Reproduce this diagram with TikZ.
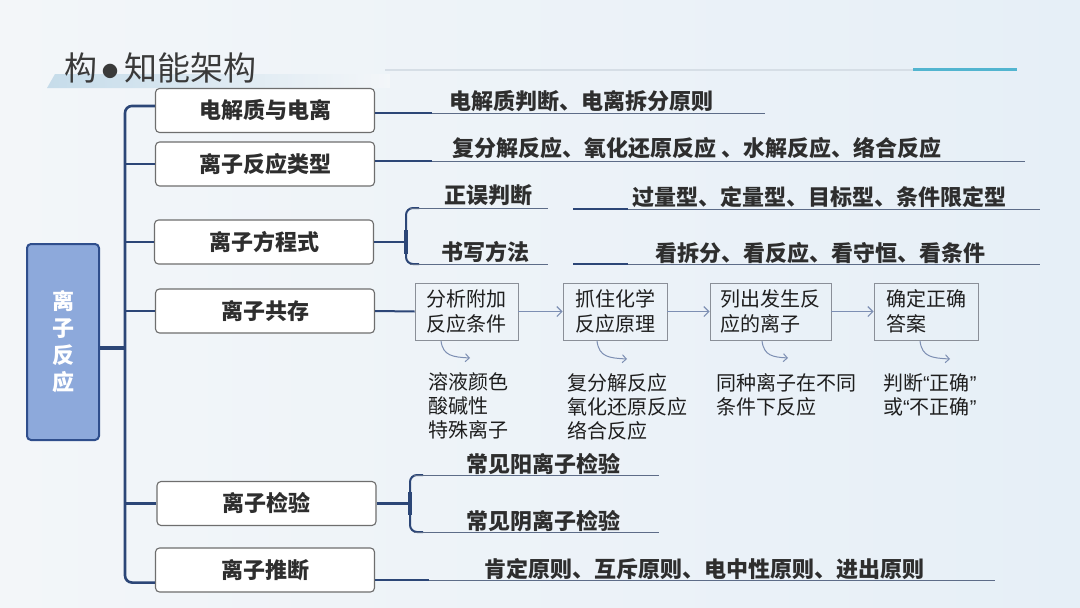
\documentclass[tikz,border=0pt]{standalone}
\usepackage{fontspec}
\setmainfont{Noto Sans CJK SC}
\newfontfamily\quotefont{Liberation Sans}
\usetikzlibrary{arrows.meta,calc}
\definecolor{bgL}{HTML}{F3F6F9}
\definecolor{bgR}{HTML}{E6EFF7}
\definecolor{dkblue}{HTML}{2C4677}
\definecolor{rootfill}{HTML}{8DA9DB}
\definecolor{rootdraw}{HTML}{2F4E8C}
\definecolor{boxdraw}{HTML}{6E6E6E}
\definecolor{stepdraw}{HTML}{8A8F98}
\definecolor{thinln}{HTML}{5D6C88}
\definecolor{arrowc}{HTML}{7D8FB3}
\definecolor{txt}{HTML}{2E2E2E}
\definecolor{txtn}{HTML}{1E1E1E}
\definecolor{tealc}{HTML}{52B5D0}
\definecolor{hdrline}{HTML}{D6DEE6}
\definecolor{stripc}{HTML}{C6DCEA}
\definecolor{titlec}{HTML}{3A3A3A}
\newcommand{\myoq}{{\quotefont “}}
\newcommand{\mycq}{{\quotefont ”}}
\begin{document}
\begin{tikzpicture}[x=1pt,y=-1pt,
  lvbox/.style={draw=boxdraw, line width=1.1pt, fill=white, rounded corners=4pt,
    minimum width=219pt, minimum height=44pt, inner sep=0pt,
    font=\fontsize{22}{26}\selectfont\bfseries, text=txt},
  lbl/.style={anchor=west, inner sep=0pt, font=\fontsize{22}{26}\selectfont\bfseries, text=txt},
  stepbox/.style={draw=stepdraw, line width=0.9pt, minimum height=57pt, inner sep=0pt,
    align=left, font=\fontsize{20}{25}\selectfont, text=txtn},
  subtxt/.style={anchor=west, inner sep=0pt, align=left, font=\fontsize{20}{24}\selectfont, text=txtn},
  trunk/.style={draw=dkblue, line width=2.6pt},
  tick/.style={draw=dkblue, line width=2.2pt},
  thickln/.style={draw=dkblue, line width=2.6pt},
  thinl/.style={draw=thinln, line width=1pt},
  bracel/.style={draw=dkblue, line width=2pt, rounded corners=7pt},
  flow/.style={draw=arrowc, line width=1.1pt, -{Straight Barb[length=5pt,width=10pt]}},
  curv/.style={draw=arrowc, line width=1pt, -{Straight Barb[length=4pt,width=8pt]}}
]
\useasboundingbox (0,0) rectangle (1080,608);
\shade[left color=bgL, right color=bgR] (0,0) rectangle (1080,608);

% header
\shade[left color=stripc, right color=bgL] (47,88) -- (55,74) -- (390,74) -- (390,88) -- cycle;
\node[anchor=west, inner sep=0pt, font=\fontsize{33}{36}\selectfont, text=titlec] (title) at (64,68)
  {构\hspace{5pt}\raisebox{3pt}{\fontsize{16}{16}\selectfont ●}\hspace{6pt}知能架构};
\draw[hdrline, line width=1.5pt] (385,70) -- (915,70);
\draw[tealc, line width=3pt] (913,69) -- (1017,69);

% root
\node[draw=rootdraw, line width=2pt, fill=rootfill, rounded corners=4pt,
  minimum width=72pt, minimum height=196pt, inner sep=0pt, align=center,
  text=white, font=\fontsize{22}{27}\selectfont\bfseries] (root) at (63,342) {离\\子\\反\\应};

% level-1 boxes
\node[lvbox] (b1) at (265,110.5) {电解质与电离};
\node[lvbox] (b2) at (265,164) {离子反应类型};
\node[lvbox] (b3) at (264,242) {离子方程式};
\node[lvbox] (b4) at (265,311) {离子共存};
\node[lvbox] (b5) at (266.5,503.5) {离子检验};
\node[lvbox] (b6) at (265,570) {离子推断};

% trunk
\coordinate (tx) at (125,0);
\draw[trunk, rounded corners=7pt] ($(b1.north west)+(0,18)$) -| ($(root.east -| tx)$) |- ($(b6.south west)+(0,-10)$);
\draw[dkblue, line width=4.5pt] ($(root.east)+(0,6)$) -- ($(root.east -| tx)+(0,6)$);
\draw[tick] (b2.west) -- (b2.west -| tx);
\draw[tick] (b3.west) -- (b3.west -| tx);
\draw[tick] (b4.west) -- (b4.west -| tx);
\draw[tick] (b5.west) -- (b5.west -| tx);

% branch 1
\coordinate (c1) at (432,113); \coordinate (e1) at (765,113);
\draw[thickln] (b1.east |- c1) -- (c1);
\draw[thinl] (c1) -- (e1);
\node[lbl] (t1) at (449,101) {电解质判断、电离拆分原则};

% branch 2
\coordinate (c2) at (432,161); \coordinate (e2) at (1025,161);
\draw[thickln] (b2.east |- c2) -- (c2);
\draw[thinl] (c2) -- (e2);
\node[lbl] (t2) at (452,148) {复分解反应、氧化还原反应 、水解反应、络合反应};

% branch 3
\coordinate (br3) at (406,242);
\draw[thickln] (b3.east) -- (br3);
\draw[bracel] (419,208) -- (406,208) -- (406,264) -- (419,264);
\draw[dkblue, line width=3.6pt] (406,230) -- (406,254);
\coordinate (u3a) at (410,208); \coordinate (v3a) at (548,208);
\coordinate (u3b) at (410,264); \coordinate (v3b) at (548,264);
\draw[thinl] (u3a) -- (v3a);
\draw[thinl] (u3b) -- (v3b);
\node[lbl] (t3a) at (444,195) {正误判断};
\node[lbl] (t3b) at (441,252) {书写方法};
\coordinate (p3c) at (573,209); \coordinate (q3c) at (628,209); \coordinate (r3c) at (1040,209);
\draw[thickln] (p3c) -- (q3c);
\draw[thinl] (q3c) -- (r3c);
\node[lbl] (t3c) at (632,197) {过量型、定量型、目标型、条件限定型};
\coordinate (p3d) at (573,264); \coordinate (q3d) at (628,264); \coordinate (r3d) at (1040,264);
\draw[thickln] (p3d) -- (q3d);
\draw[thinl] (q3d) -- (r3d);
\node[lbl] (t3d) at (655,253) {看拆分、看反应、看守恒、看条件};

% branch 4: flow
\node[stepbox, minimum width=103pt] (s1) at (466.5,311.5) {分析附加\\反应条件};
\node[stepbox, minimum width=104pt] (s2) at (615,311.5) {抓住化学\\反应原理};
\node[stepbox, minimum width=121pt] (s3) at (770.5,311.5) {列出发生反\\应的离子};
\node[stepbox, minimum width=104pt] (s4) at (926,311.5) {确定正确\\答案};
\draw[dkblue, line width=2pt] (b4.east) -- (s1.west);
\draw[flow] (s1) -- (s2);
\draw[flow] (s2) -- (s3);
\draw[flow] (s3) -- (s4);

\coordinate (k1a) at (441,341); \coordinate (k1b) at (470,358);
\draw[curv] (k1a) .. controls (443,356) and (453,357) .. (k1b);
\coordinate (k2a) at (597,341); \coordinate (k2b) at (627,359);
\draw[curv] (k2a) .. controls (599,357) and (609,358) .. (k2b);
\coordinate (k3a) at (762,341); \coordinate (k3b) at (788,358);
\draw[curv] (k3a) .. controls (764,356) and (773,357) .. (k3b);
\coordinate (k4a) at (920,341); \coordinate (k4b) at (950,359);
\draw[curv] (k4a) .. controls (922,357) and (932,358) .. (k4b);

\node[subtxt] (d1) at (428,406) {溶液颜色\\酸碱性\\特殊离子};
\node[subtxt] (d2) at (567,407) {复分解反应\\氧化还原反应\\络合反应};
\node[subtxt] (d3) at (716,394.5) {同种离子在不同\\条件下反应};
\node[subtxt] (d4) at (883,394.5) {判断\myoq 正确\mycq\\或\myoq 不正确\mycq};

% branch 5
\coordinate (br5) at (410,503.5);
\draw[thickln] (b5.east) -- (br5);
\draw[bracel] (423,475) -- (410,475) -- (410,532) -- (423,532);
\draw[dkblue, line width=3.6pt] (410,492) -- (410,515);
\coordinate (u5a) at (414,475); \coordinate (v5a) at (659,475);
\coordinate (u5b) at (414,532); \coordinate (v5b) at (659,532);
\draw[thinl] (u5a) -- (v5a);
\draw[thinl] (u5b) -- (v5b);
\node[lbl] (t5a) at (466,464) {常见阳离子检验};
\node[lbl] (t5b) at (466,521) {常见阴离子检验};

% branch 6
\coordinate (c6) at (429,580); \coordinate (e6) at (995,580);
\draw[thickln] (b6.east |- c6) -- (c6);
\draw[thinl] (c6) -- (e6);
\node[lbl] (t6) at (484,569) {肯定原则、互斥原则、电中性原则、进出原则};
\end{tikzpicture}
\end{document}
